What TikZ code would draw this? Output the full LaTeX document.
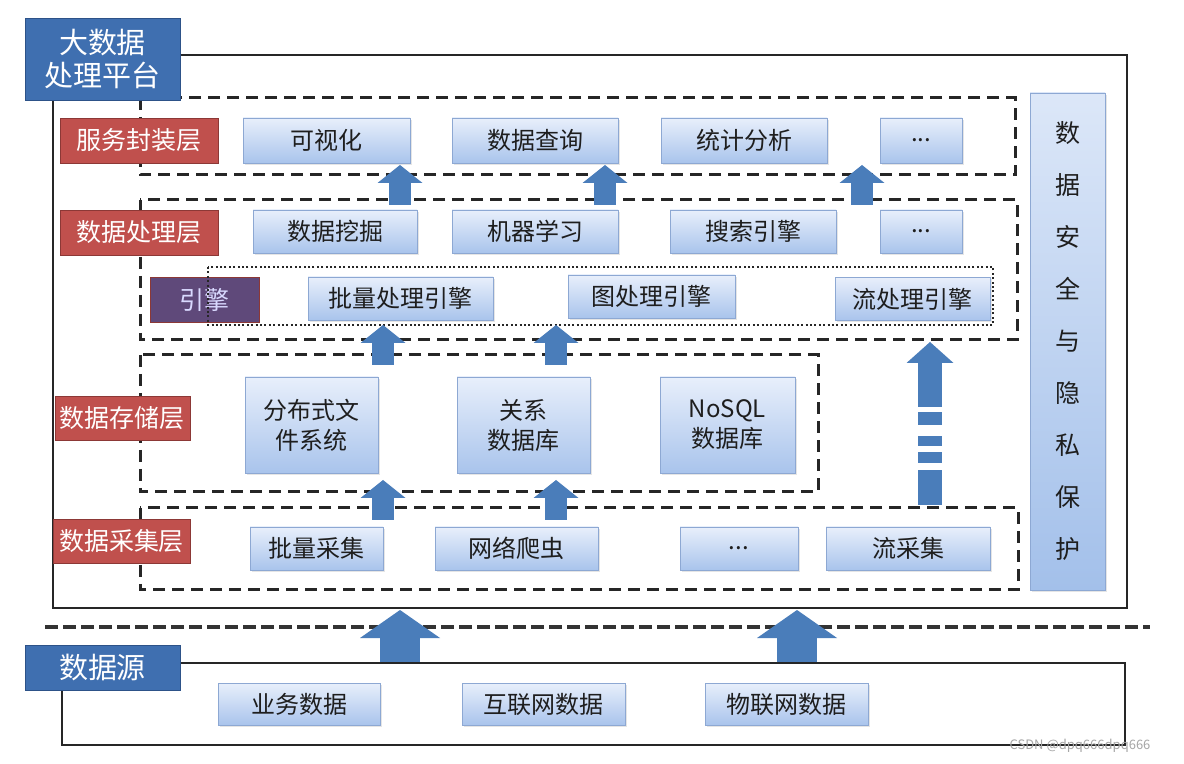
\documentclass[tikz,border=0pt]{standalone}
\usepackage{fontspec}
\setmainfont{Noto Sans CJK SC}
\usepackage{tikz}
\usetikzlibrary{arrows.meta,shadows,positioning}

\definecolor{titleblue}{HTML}{3F6FB0}
\definecolor{titleline}{HTML}{2D5288}
\definecolor{layerred}{HTML}{C0504D}
\definecolor{layerline}{HTML}{8C3836}
\definecolor{enginepurple}{HTML}{5F497A}
\definecolor{boxtop}{HTML}{E8EFFB}
\definecolor{boxbot}{HTML}{A9C4EC}
\definecolor{boxline}{HTML}{8DA8D3}
\definecolor{boxtext}{HTML}{1E1E1E}
\definecolor{arrowblue}{HTML}{4A7DBA}
\definecolor{sectop}{HTML}{DCE7F8}
\definecolor{secbot}{HTML}{A3C0EA}

\tikzset{wh/.style 2 args = {minimum width = #1*0.5pt, minimum height = #2*0.5pt}}

\begin{document}
\begin{tikzpicture}[x = 0.5pt, y = -0.5pt]
	\tikzstyle{box} = [rectangle, draw = boxline, top color = boxtop, bottom color = boxbot, text = boxtext, align = center, inner sep = 0pt, font = \fontsize{12}{15}\selectfont, drop shadow = {opacity = 0.2, shadow xshift = 0.8pt, shadow yshift = -0.8pt}]
	\tikzstyle{layer} = [rectangle, draw = layerline, fill = layerred, text = white, inner sep = 0pt, font = \fontsize{12.5}{15}\selectfont]
	\tikzstyle{title} = [rectangle, draw = titleline, fill = titleblue, text = white, align = center, inner sep = 0pt, font = \fontsize{14.5}{16.5}\selectfont]
	\tikzstyle{zone} = [draw = black!85, line width = 1.5pt, dash pattern = on 6pt off 3.5pt]
	\tikzstyle{frame} = [draw = black!85, line width = 1.2pt]
	\tikzstyle{uparrow} = [draw = arrowblue, line width = 11pt, -{Triangle[width = 22.5pt 0 0, length = 9pt 0 0, line width = 0pt]}]
	\tikzstyle{bigarrow} = [draw = arrowblue, line width = 20pt, -{Triangle[width = 40pt 0 0, length = 14pt 0 0, line width = 0pt]}]

	\fill[white] (0, 0) rectangle (1184, 764);
	\useasboundingbox (0, 0) rectangle (1184, 764);

	% platform frame and layers
	\path[frame] (53, 55) rectangle (1127, 608);
	\path[zone] (140, 98) rectangle (1015, 175);
	\path[zone] (140, 200) rectangle (1017, 340);
	\path[zone] (140, 355) rectangle (818, 492);
	\path[zone] (140, 508) rectangle (1018, 590);

\node[title, wh = {155}{82}] (plat) at (102.5, 59) {大数据\\处理平台};

\node[layer, wh = {158}{45}] (l1) at (139, 140.5) {服务封装层};
\node[layer, wh = {158}{45}] (l2) at (139, 232.5) {数据处理层};
\node[layer, wh = {135}{44}] (l3) at (122.5, 418.5) {数据存储层};
\node[layer, wh = {137}{44}] (l4) at (121.5, 541) {数据采集层};
\node[layer, fill = enginepurple, text = white!85!blue, wh = {109}{45}] (eng) at (204.5, 299.5) {引擎};

	% engine group, over its label
	\path[draw = black!85, line width = 1.3pt, dash pattern = on 1pt off 1.2pt] (208, 267) rectangle (993, 325);

\node[box, wh = {167}{45}] (s1) at (326.5, 140.5) {可视化};
\node[box, wh = {166}{45}] (s2) at (535, 140.5) {数据查询};
\node[box, wh = {166}{45}] (s3) at (744, 140.5) {统计分析};
\node[box, wh = {82}{45}] (s4) at (921, 140.5) {...};

\node[box, wh = {164}{43}] (p1) at (335, 231.5) {数据挖掘};
\node[box, wh = {166}{43}] (p2) at (535, 231.5) {机器学习};
\node[box, wh = {166}{43}] (p3) at (753, 231.5) {搜索引擎};
\node[box, wh = {82}{43}] (p4) at (921, 231.5) {...};

\node[box, wh = {185}{43}] (e1) at (400.5, 298.5) {批量处理引擎};
\node[box, wh = {167}{43}] (e2) at (651.5, 296.5) {图处理引擎};
\node[box, wh = {155}{43}] (e3) at (912.5, 299) {流处理引擎};

\node[box, wh = {133}{96}] (d1) at (311.5, 425) {分布式文\\件系统};
\node[box, wh = {133}{96}] (d2) at (523.5, 425) {关系\\数据库};
\node[box, wh = {135}{96}] (d3) at (727.5, 425) {NoSQL\\数据库};

\node[box, wh = {133}{43}] (c1) at (316.5, 548.5) {批量采集};
\node[box, wh = {163}{43}] (c2) at (516.5, 548.5) {网络爬虫};
\node[box, wh = {118}{43}] (c3) at (739, 548.5) {...};
\node[box, wh = {164}{43}] (c4) at (908, 548.5) {流采集};

\node[box, top color = sectop, bottom color = secbot, wh = {75}{497}, font = \fontsize{12.5}{26}\selectfont] (sec) at (1067.5, 341.5) {数\\据\\安\\全\\与\\隐\\私\\保\\护};

	% data sources
	\path[draw = black!80, line width = 2pt, dash pattern = on 6.5pt off 2.5pt] (45, 627) -- (1150, 627);
	\path[frame] (62, 663) rectangle (1125, 745);
\node[title, wh = {155}{45}] (src) at (102.5, 667.5) {数据源};
\node[box, wh = {162}{42}] (r1) at (299, 704) {业务数据};
\node[box, wh = {163}{42}] (r2) at (543.5, 704) {互联网数据};
\node[box, wh = {163}{42}] (r3) at (786.5, 704) {物联网数据};

\node[text = black!35, font = \fontsize{6.5}{8}\selectfont] (mark) at (1080, 746) {CSDN @dpq666dpq666};

	% arrow ends
	\coordinate (a1) at (400, 205); \coordinate (b1) at (400, 165);
	\coordinate (a2) at (605, 205); \coordinate (b2) at (605, 165);
	\coordinate (a3) at (862, 205); \coordinate (b3) at (862, 165);
	\coordinate (a4) at (383, 365); \coordinate (b4) at (383, 325);
	\coordinate (a5) at (556, 365); \coordinate (b5) at (556, 325);
	\coordinate (a6) at (383, 520); \coordinate (b6) at (383, 480);
	\coordinate (a7) at (556, 520); \coordinate (b7) at (556, 480);
	\coordinate (a8) at (930, 505); \coordinate (b8) at (930, 342);
	\coordinate (a9) at (400, 662); \coordinate (b9) at (400, 610);
	\coordinate (a10) at (797, 662); \coordinate (b10) at (797, 610);

	\path[uparrow] (a1) -- (b1);
	\path[uparrow] (a2) -- (b2);
	\path[uparrow] (a3) -- (b3);
	\path[uparrow] (a4) -- (b4);
	\path[uparrow] (a5) -- (b5);
	\path[uparrow] (a6) -- (b6);
	\path[uparrow] (a7) -- (b7);
	\path[uparrow, line width = 12pt, dash pattern = on 17.5pt off 3.5pt on 5.5pt off 3pt on 5pt off 5.5pt on 6.5pt off 2.5pt on 100pt, -{Triangle[width = 23.5pt 0 0, length = 10.5pt 0 0, line width = 0pt]}] (a8) -- (b8);
	\path[bigarrow] (a9) -- (b9);
	\path[bigarrow] (a10) -- (b10);
	\end{tikzpicture}
\end{document}
